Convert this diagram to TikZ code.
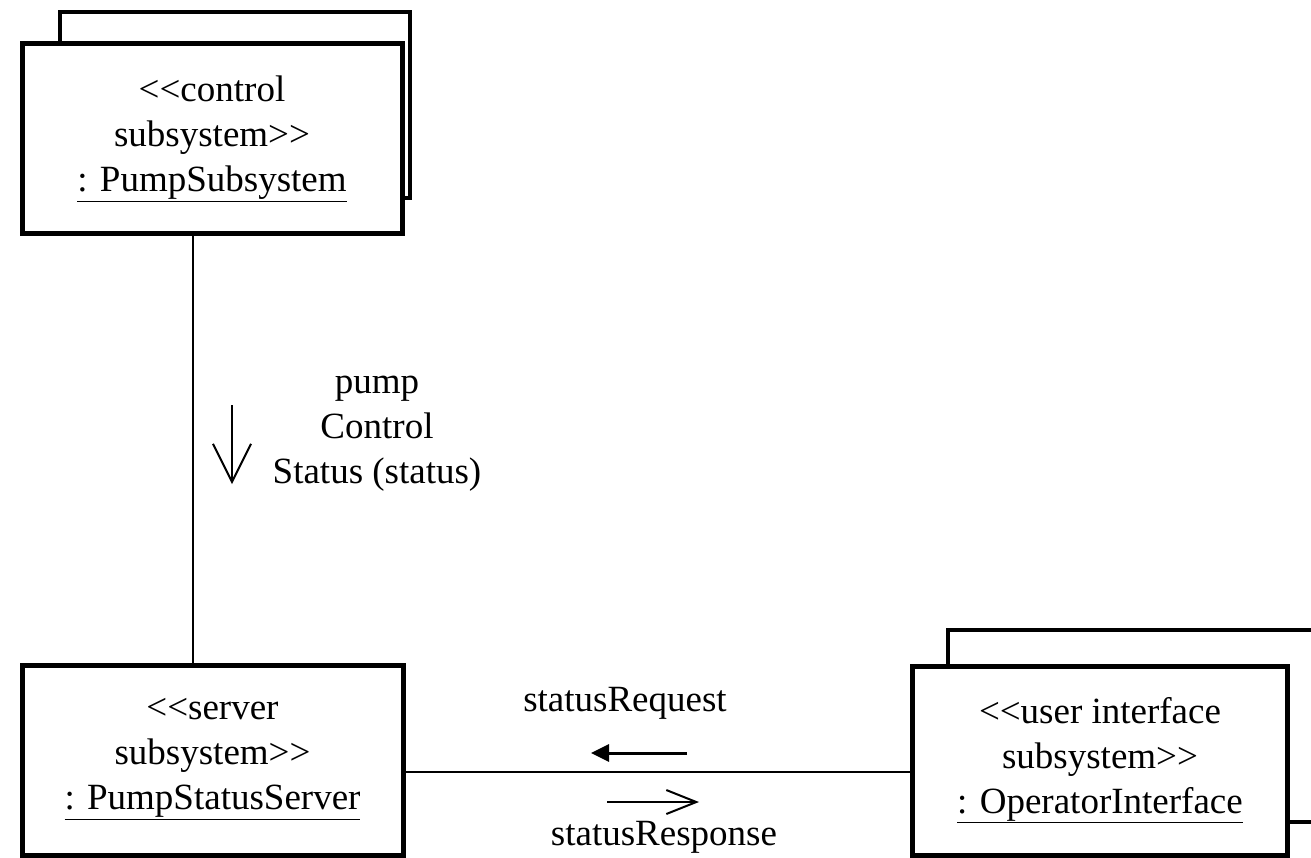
\documentclass[tikz,border=0pt]{standalone}
\usepackage{fontspec}
\setmainfont{Liberation Serif}
\usetikzlibrary{arrows.meta}
\newcommand{\ltlt}{<\kern0pt<}
\newcommand{\gtgt}{>\kern0pt>}
\begin{document}
\begin{tikzpicture}[x=1pt,y=-1pt,
  txt/.style={font=\fontsize{37}{45}\selectfont, align=center, inner sep=0pt},
  front/.style={draw=black, line width=5pt, fill=white, rectangle, inner sep=0pt},
  backbox/.style={draw=black, line width=4pt, fill=white},
  conn/.style={draw=black, line width=2pt},
  note/.style={line width=2pt, draw=black}]
\useasboundingbox (0,0) rectangle (1311,857);
\clip (0,0) rectangle (1311,857);
\fill[white] (0,0) rectangle (1311,857);
% back boxes
\draw[backbox] (60,12) rectangle (410,198);
\draw[backbox] (948,630) rectangle (1345,822);
% front boxes
\node[front, minimum width=380pt, minimum height=190pt] (ps) at (212,138) {};
\node[txt] (pst) at (212,139) {\ltlt control\\subsystem\gtgt\\\underline{: PumpSubsystem}};
\node[front, minimum width=381pt, minimum height=190pt] (pss) at (212.5,760) {};
\node[txt] (psst) at (212.5,759) {\ltlt server\\subsystem\gtgt\\\underline{: PumpStatusServer}};
\node[front, minimum width=375pt, minimum height=189pt] (oi) at (1099.5,760.5) {};
\node[txt] (oit) at (1100,760) {\ltlt user interface\\subsystem\gtgt\\\underline{: OperatorInterface}};
% connectors
\draw[conn] ([xshift=-19pt]ps.south) -- ([xshift=-19.5pt]pss.north);
\draw[conn] (pss.east |- 0,772) -- (oi.west |- 0,772);
% message labels
\node[txt] (m1) at (377,434) {pump\\Control\\Status (status)};
\coordinate (a1s) at (232,405);
\coordinate (a1e) at (232,484);
\draw[note, -{Straight Barb[length=38pt, width=38pt, line width=2pt]}] (a1s) -- (a1e);
\node[txt] (m2) at (625,703) {statusRequest};
\coordinate (a2s) at (687,753);
\coordinate (a2e) at (591,753);
\draw[line width=3pt, -{Triangle[length=18pt, width=17pt]}] (a2s) -- (a2e);
\coordinate (a3s) at (607,802);
\coordinate (a3e) at (699,802);
\draw[note, -{Straight Barb[length=30pt, width=24pt, line width=2pt]}] (a3s) -- (a3e);
\node[txt] (m3) at (664,837) {statusResponse};
\end{tikzpicture}
\end{document}
